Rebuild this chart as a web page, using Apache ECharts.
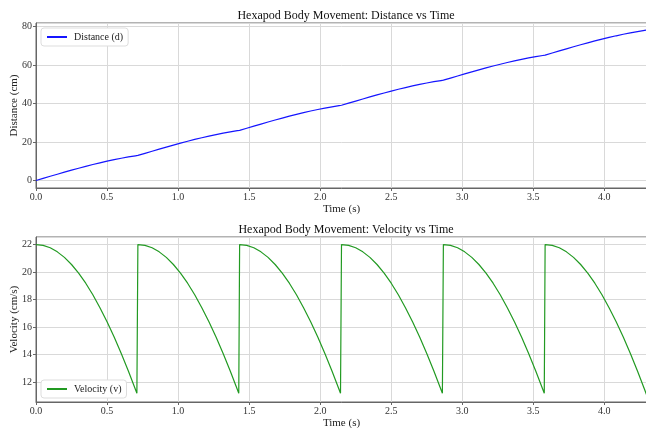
<!DOCTYPE html>
<html>
<head>
<meta charset="utf-8">
<script src="https://cdn.jsdelivr.net/npm/echarts@6/dist/echarts.min.js"></script>
<style>
    html, body { margin: 0; padding: 0; background: #fff; }
    #chart { width: 646px; height: 428px; }
</style>
</head>
<body>
<div id="chart"></div>
<script>
// 时间 (s)
var time = [
    0, 0.05, 0.1, 0.15, 0.2, 0.25, 0.3, 0.35, 0.4, 0.45, 0.5, 0.55, 0.6, 0.65, 0.7, 0.71,
    0.717, 0.767, 0.817, 0.867, 0.917, 0.967, 1.017, 1.067, 1.117, 1.167, 1.217, 1.267, 1.317, 1.367, 1.417, 1.427,
    1.433, 1.483, 1.533, 1.583, 1.633, 1.683, 1.733, 1.783, 1.833, 1.883, 1.933, 1.983, 2.033, 2.083, 2.133, 2.143,
    2.15, 2.2, 2.25, 2.3, 2.35, 2.4, 2.45, 2.5, 2.55, 2.6, 2.65, 2.7, 2.75, 2.8, 2.85, 2.86,
    2.867, 2.917, 2.967, 3.017, 3.067, 3.117, 3.167, 3.217, 3.267, 3.317, 3.367, 3.417, 3.467, 3.517, 3.567, 3.577,
    3.583, 3.633, 3.683, 3.733, 3.783, 3.833, 3.883, 3.933, 3.983, 4.033, 4.083, 4.133, 4.183, 4.233, 4.283, 4.3
];
// 距离 (cm)
var distance = [
    0, 1.10, 2.19, 3.27, 4.34, 5.38, 6.39, 7.37, 8.31, 9.20, 10.05, 10.84, 11.58, 12.25, 12.85, 12.97,
    13.04, 14.14, 15.23, 16.31, 17.38, 18.42, 19.43, 20.41, 21.35, 22.24, 23.09, 23.88, 24.62, 25.29, 25.89, 26.01,
    26.08, 27.18, 28.27, 29.35, 30.42, 31.46, 32.47, 33.45, 34.39, 35.28, 36.13, 36.92, 37.66, 38.33, 38.93, 39.05,
    39.12, 40.22, 41.31, 42.39, 43.46, 44.50, 45.51, 46.49, 47.43, 48.32, 49.17, 49.96, 50.70, 51.37, 51.97, 52.09,
    52.16, 53.26, 54.35, 55.43, 56.50, 57.54, 58.55, 59.53, 60.47, 61.36, 62.21, 63.00, 63.74, 64.41, 65.01, 65.13,
    65.20, 66.30, 67.39, 68.47, 69.54, 70.58, 71.59, 72.57, 73.51, 74.40, 75.25, 76.04, 76.78, 77.45, 78.05, 78.24
];
// 速度 (cm/s)
var velocity = [
    22.00, 21.94, 21.77, 21.47, 21.07, 20.55, 19.92, 19.19, 18.35, 17.41, 16.38, 15.27, 14.08, 12.80, 11.46, 11.19,
    22.00, 21.94, 21.77, 21.47, 21.07, 20.55, 19.92, 19.19, 18.35, 17.41, 16.38, 15.27, 14.08, 12.80, 11.46, 11.19,
    22.00, 21.94, 21.77, 21.47, 21.07, 20.55, 19.92, 19.19, 18.35, 17.41, 16.38, 15.27, 14.08, 12.80, 11.46, 11.19,
    22.00, 21.94, 21.77, 21.47, 21.07, 20.55, 19.92, 19.19, 18.35, 17.41, 16.38, 15.27, 14.08, 12.80, 11.46, 11.19,
    22.00, 21.94, 21.77, 21.47, 21.07, 20.55, 19.92, 19.19, 18.35, 17.41, 16.38, 15.27, 14.08, 12.80, 11.46, 11.19,
    22.00, 21.94, 21.77, 21.47, 21.07, 20.55, 19.92, 19.19, 18.35, 17.41, 16.38, 15.27, 14.08, 12.80, 11.46, 11.00
];
var titles = ['Hexapod Body Movement: Distance vs Time', 'Hexapod Body Movement: Velocity vs Time'];

var sFont_vob = '"Liberation Serif", "Times New Roman", serif';

function pairs(xs, ys) {
    var out = [];
    for (var i = 0; i < xs.length; i++) out.push([xs[i], ys[i]]);
    return out;
}

function xAxisCfg(gridIndex) {
    return {
        type: 'value', gridIndex: gridIndex, min: 0, max: 4.3, interval: 0.5,
        name: 'Time (s)', nameLocation: 'middle', nameGap: 16, nameMoveOverlap: false,
        nameTextStyle: { fontFamily: sFont_vob, fontSize: 11, color: '#222' },
        axisLine: { show: true, onZero: false, lineStyle: { color: '#666', width: 1 } },
        axisTick: { show: true, length: 3, lineStyle: { color: '#666' } },
        axisLabel: {
            fontFamily: sFont_vob, fontSize: 10, color: '#333', margin: 4, showMaxLabel: false,
            formatter: function (v) { return v.toFixed(1); }
        },
        splitLine: { show: true, lineStyle: { color: '#d9d9d9', width: 1 } }
    };
}

function yAxisCfg(gridIndex, name, min, max, step, nameGap) {
    return {
        type: 'value', gridIndex: gridIndex, min: min, max: max, splitNumber: Math.round((max - min) / step),
        name: name, nameLocation: 'middle', nameGap: nameGap, nameMoveOverlap: false,
        nameTextStyle: { fontFamily: sFont_vob, fontSize: 11, color: '#222' },
        axisLine: { show: true, lineStyle: { color: '#666', width: 1 } },
        axisTick: { show: true, length: 3, lineStyle: { color: '#666' } },
        axisLabel: {
            fontFamily: sFont_vob, fontSize: 10, color: '#333', margin: 4,
            showMinLabel: false, showMaxLabel: false,
            formatter: function (v) {
                return Math.abs(v / step - Math.round(v / step)) < 1e-6 ? String(Math.round(v)) : '';
            }
        },
        splitLine: { show: true, lineStyle: { color: '#d9d9d9', width: 1 } }
    };
}

function legendCfg(name, top) {
    return {
        data: [name], left: 41, top: top, orient: 'vertical',
        itemWidth: 20, itemHeight: 8, itemGap: 6, padding: [4, 5, 4, 5],
        itemStyle: { opacity: 0 },
        backgroundColor: '#fff', borderColor: '#ddd', borderWidth: 1, borderRadius: 3,
        textStyle: { fontFamily: sFont_vob, fontSize: 10, color: '#222', padding: [0, 0, 0, 2] }
    };
}

var option = {
    animation: false,
    backgroundColor: '#fff',
    title: [
        { text: titles[0], left: 341, top: 5, textAlign: 'center',
          textStyle: { fontFamily: sFont_vob, fontSize: 12, fontWeight: 'normal', color: '#111' } },
        { text: titles[1], left: 341, top: 219, textAlign: 'center',
          textStyle: { fontFamily: sFont_vob, fontSize: 12, fontWeight: 'normal', color: '#111' } }
    ],
    legend: [legendCfg('Distance (d)', 28), legendCfg('Velocity (v)', 380)],
    grid: [
        { left: 36, right: -1, top: 23, height: 165, show: true, borderColor: '#666', borderWidth: 1,
          outerBoundsMode: 'none', containLabel: false },
        { left: 36, right: -1, top: 237, height: 165, show: true, borderColor: '#666', borderWidth: 1,
          outerBoundsMode: 'none', containLabel: false }
    ],
    xAxis: [xAxisCfg(0), xAxisCfg(1)],
    yAxis: [
        yAxisCfg(0, 'Distance (cm)', -3.9, 81.9, 20, 16),
        yAxisCfg(1, 'Velocity (cm/s)', 10.55, 22.55, 2, 16)
    ],
    series: [
        { name: 'Distance (d)', type: 'line', xAxisIndex: 0, yAxisIndex: 0,
          data: pairs(time, distance), symbol: 'none', showSymbol: false,
          lineStyle: { color: '#1515ff', width: 1.2 }, itemStyle: { color: '#1515ff' } },
        { name: 'Velocity (v)', type: 'line', xAxisIndex: 1, yAxisIndex: 1,
          data: pairs(time, velocity), symbol: 'none', showSymbol: false,
          lineStyle: { color: '#229a22', width: 1.2 }, itemStyle: { color: '#229a22' } }
    ]
};

var myChart = echarts.init(document.getElementById('chart'), null, { renderer: 'canvas' });
myChart.setOption(option);
</script>
</body>
</html>
